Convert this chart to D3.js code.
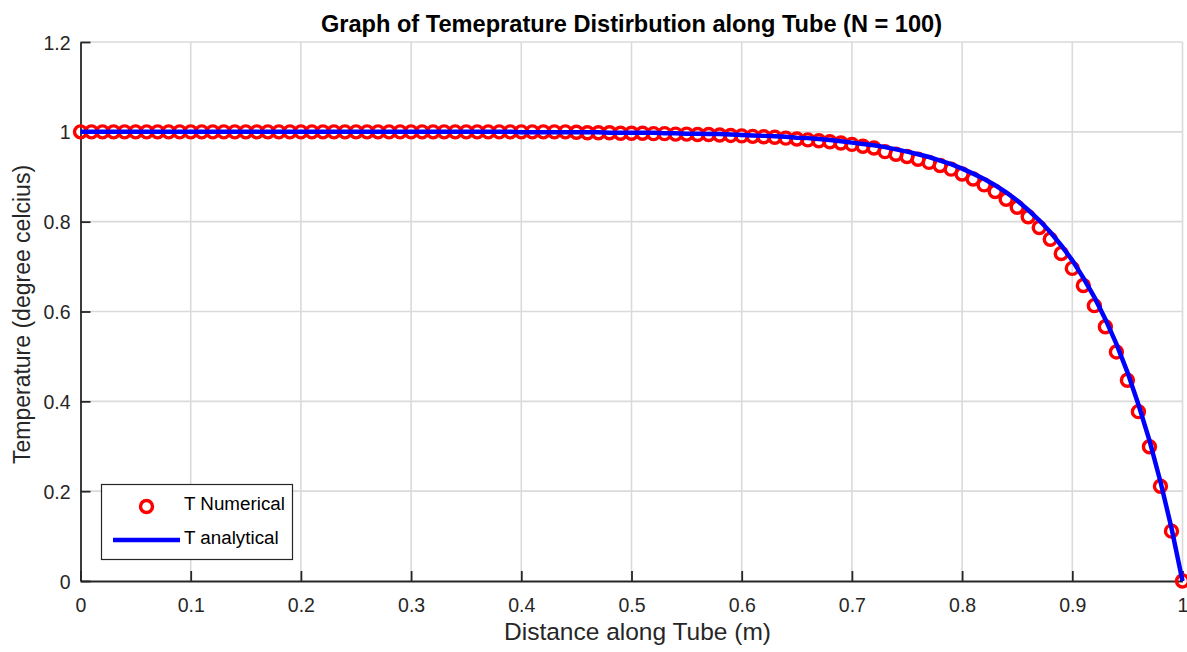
<!DOCTYPE html>
<html>
<head>
<meta charset="utf-8">
<script src="https://cdn.jsdelivr.net/npm/d3@7"></script>
<style>
  html, body { margin: 0; padding: 0; background: #fff; }
  svg { display: block; font-family: "Liberation Sans", Arial, Helvetica, sans-serif; }
</style>
</head>
<body>
<svg id="chart" width="1187" height="652"></svg>
<script>
// Node positions along the tube (m), N = 100 intervals
const positions = d3.range(101).map(i => i / 100);

// Numerical temperature at each node
const tNumerical = [
  1.000, 1.000, 1.000, 1.000, 1.000, 1.000, 1.000, 1.000, 1.000, 1.000,
  1.000, 1.000, 1.000, 1.000, 1.000, 1.000, 1.000, 1.000, 1.000, 1.000,
  1.000, 1.000, 1.000, 1.000, 1.000, 1.000, 1.000, 1.000, 1.000, 1.000,
  1.000, 1.000, 1.000, 1.000, 1.000, 1.000, 1.000, 1.000, 1.000, 1.000,
  1.000, 1.000, 1.000, 1.000, 1.000, 0.999, 0.998, 0.998, 0.998, 0.997,
  0.997, 0.997, 0.996, 0.996, 0.995, 0.995, 0.994, 0.994, 0.993, 0.992,
  0.991, 0.990, 0.989, 0.988, 0.986, 0.984, 0.982, 0.980, 0.978, 0.975,
  0.972, 0.968, 0.964, 0.956, 0.950, 0.945, 0.939, 0.932, 0.925, 0.917,
  0.906, 0.895, 0.882, 0.867, 0.850, 0.832, 0.811, 0.787, 0.761, 0.729,
  0.696, 0.658, 0.613, 0.566, 0.510, 0.447, 0.377, 0.299, 0.211, 0.111,
  0.000
];

// Analytical temperature at each node
const tAnalytical = [
  1.000, 1.000, 1.000, 1.000, 1.000, 1.000, 1.000, 1.000, 1.000, 1.000,
  1.000, 1.000, 1.000, 1.000, 1.000, 1.000, 1.000, 1.000, 1.000, 1.000,
  1.000, 1.000, 1.000, 1.000, 1.000, 1.000, 1.000, 1.000, 1.000, 1.000,
  1.000, 1.000, 1.000, 1.000, 1.000, 1.000, 1.000, 1.000, 1.000, 1.000,
  0.999, 0.999, 0.999, 0.999, 0.999, 0.999, 0.999, 0.999, 0.998, 0.998,
  0.998, 0.998, 0.998, 0.997, 0.997, 0.996, 0.996, 0.995, 0.995, 0.994,
  0.993, 0.992, 0.991, 0.990, 0.989, 0.987, 0.986, 0.984, 0.982, 0.979,
  0.976, 0.973, 0.970, 0.966, 0.961, 0.956, 0.950, 0.944, 0.936, 0.928,
  0.918, 0.907, 0.895, 0.881, 0.865, 0.847, 0.826, 0.803, 0.777, 0.747,
  0.714, 0.675, 0.632, 0.583, 0.528, 0.465, 0.393, 0.313, 0.221, 0.118,
  0.000
];

const xTicks = [0, 0.1, 0.2, 0.3, 0.4, 0.5, 0.6, 0.7, 0.8, 0.9, 1];
const yTicks = [0, 0.2, 0.4, 0.6, 0.8, 1, 1.2];

const titleText = "Graph of Temeprature Distirbution along Tube (N = 100)";
const xLabelText = "Distance along Tube (m)";
const yLabelText = "Temperature (degree celcius)";
const legendLabels = ["T Numerical", "T analytical"];

const axisColor = "#262626";
const gridColor = "#dadada";
const markerColor = "#ff0000";
const lineColor = "#0000ff";

const svg = d3.select("#chart");
const margin = { left: 80.5, right: 4.5, top: 42, bottom: 71 };
const width = 1187, height = 652;

const x = d3.scaleLinear().domain([0, 1]).range([margin.left, width - margin.right]);
const y = d3.scaleLinear().domain([0, 1.2]).range([height - margin.bottom, margin.top]);

const fmt = d => (d === 0 || d === 1) ? String(d) : d3.format(".1f")(d);

// grid lines
const grid = svg.append("g").attr("stroke", gridColor).attr("stroke-width", 1.6);
grid.selectAll("line.gx").data(xTicks.slice(1)).join("line")
  .attr("x1", d => x(d)).attr("x2", d => x(d))
  .attr("y1", y(0)).attr("y2", y(1.2));
grid.selectAll("line.gy").data(yTicks.slice(1)).join("line")
  .attr("y1", d => y(d)).attr("y2", d => y(d))
  .attr("x1", x(0)).attr("x2", x(1));

// axes with inward ticks
const xAxis = d3.axisBottom(x).tickValues(xTicks).tickFormat(fmt).tickSizeInner(-10).tickSizeOuter(0).tickPadding(17);
const yAxis = d3.axisLeft(y).tickValues(yTicks).tickFormat(fmt).tickSizeInner(-10).tickSizeOuter(0).tickPadding(10);

const gx = svg.append("g").attr("transform", `translate(0,${y(0)})`).call(xAxis);
const gy = svg.append("g").attr("transform", `translate(${x(0)},0)`).call(yAxis);
[gx, gy].forEach(g => {
  g.select(".domain").attr("stroke", axisColor).attr("stroke-width", 1.8);
  g.selectAll(".tick line").attr("stroke", axisColor).attr("stroke-width", 1.8);
  g.selectAll(".tick text").attr("fill", axisColor).style("font-size", "19.5px")
    .style("font-family", "'Liberation Sans', Arial, sans-serif");
});
gx.selectAll(".tick text").attr("dy", "0.71em");
gy.selectAll(".tick text").attr("dy", "0.36em");

// numerical markers
const pts = positions.map((p, i) => ({ p, t: tNumerical[i] }));
svg.append("g").selectAll("circle").data(pts).join("circle")
  .attr("cx", d => x(d.p)).attr("cy", d => y(d.t)).attr("r", 6)
  .attr("fill", "none").attr("stroke", markerColor).attr("stroke-width", 3.4);

// analytical curve
const line = d3.line().x(d => x(d.p)).y(d => y(d.t));
svg.append("path")
  .datum(positions.map((p, i) => ({ p, t: tAnalytical[i] })))
  .attr("d", line).attr("fill", "none").attr("stroke", lineColor).attr("stroke-width", 4.5);

// title and labels
svg.append("text").attr("x", (x(0) + x(1)) / 2).attr("y", 32)
  .attr("text-anchor", "middle").attr("fill", "#000")
  .style("font-size", "23.6px").style("font-weight", "bold").text(titleText);

svg.append("text").attr("x", (x(0) + x(1)) / 2 + 6).attr("y", 640)
  .attr("text-anchor", "middle").attr("fill", axisColor)
  .style("font-size", "24.5px").text(xLabelText);

svg.append("text").attr("transform", `translate(30,${(y(0) + y(1.2)) / 2 + 3}) rotate(-90)`)
  .attr("text-anchor", "middle").attr("fill", axisColor)
  .style("font-size", "23px").text(yLabelText);

// legend
const lg = svg.append("g");
lg.append("rect").attr("x", 101.5).attr("y", 484.5).attr("width", 191).attr("height", 75)
  .attr("fill", "#fff").attr("stroke", axisColor).attr("stroke-width", 1.2);
lg.append("circle").attr("cx", 146.5).attr("cy", 506.5).attr("r", 6)
  .attr("fill", "none").attr("stroke", markerColor).attr("stroke-width", 3.4);
lg.append("line").attr("x1", 113).attr("x2", 180).attr("y1", 540).attr("y2", 540)
  .attr("stroke", lineColor).attr("stroke-width", 4.5);
lg.selectAll("text.lt").data(legendLabels).join("text")
  .attr("x", 184).attr("y", (d, i) => i === 0 ? 510 : 544)
  .attr("fill", "#000").style("font-size", "18.8px").text(d => d);
</script>
</body>
</html>
